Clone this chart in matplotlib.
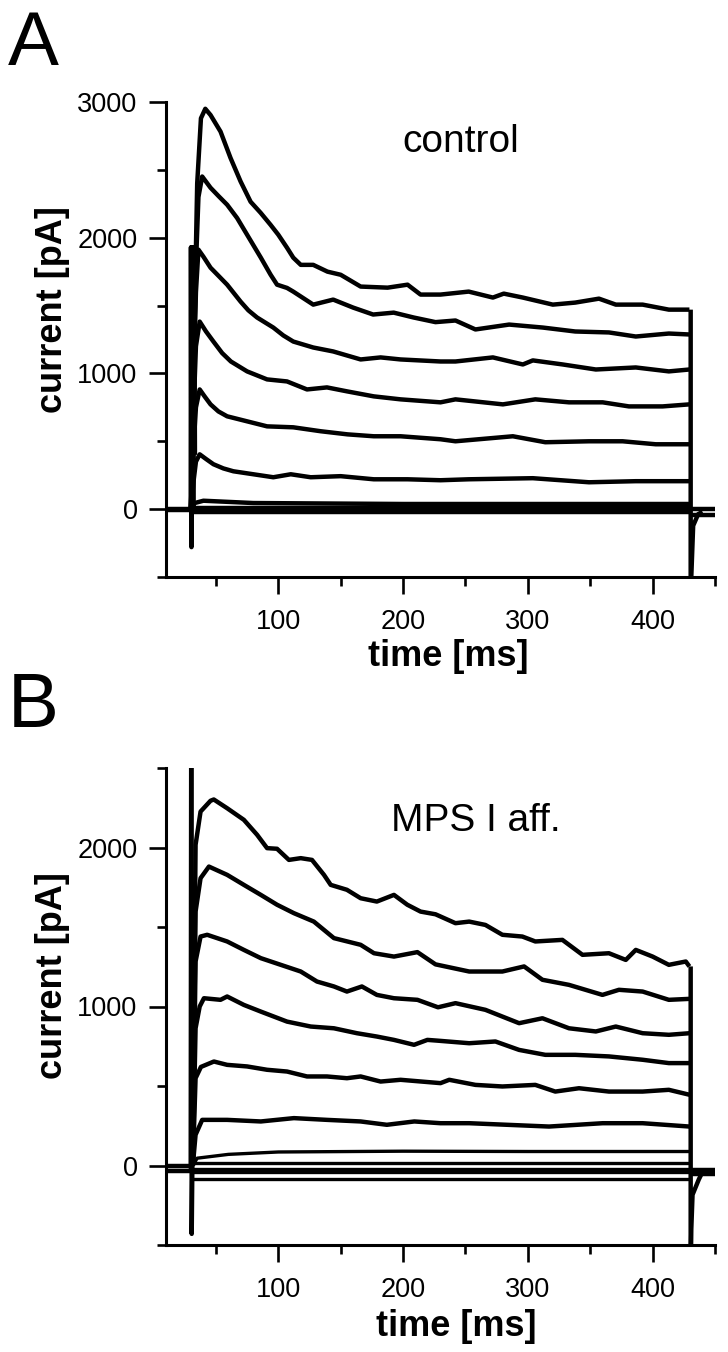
import matplotlib
matplotlib.use('Agg')
import matplotlib.pyplot as plt
from matplotlib.ticker import MultipleLocator

plt.rcParams['font.family'] = ['Liberation Sans', 'DejaVu Sans']

W, H = 728, 1352

# ---- panel A (control) ----
a1_t = [30, 32, 33.5, 35, 38, 41.5, 45.7, 53.7, 61.7, 69.8, 77.8, 85.8, 93.8, 100, 107, 112, 118, 128,
        139.4, 150, 166, 187.6, 203.6, 214, 230, 252.6, 272, 280.7, 296, 320, 338, 357, 370.5, 392, 413, 429.5]
a1_i = [0, 800, 1700, 2400, 2880, 2950, 2904, 2782, 2588, 2414, 2265, 2184, 2095, 2022, 1926, 1853, 1800, 1800,
        1750, 1727, 1640, 1632, 1654, 1581, 1581, 1603, 1559, 1588, 1559, 1507, 1522, 1551, 1507, 1507, 1470, 1470]
a2_t = [30, 32, 34, 36, 39, 45.7, 52.4, 59, 67, 75, 86, 93.8, 99, 107, 112, 128, 144, 160, 176, 192.5,
        208.5, 226, 242, 258, 285, 312, 338, 365, 386.5, 413, 429.5]
a2_i = [0, 900, 1800, 2300, 2451, 2368, 2304, 2243, 2145, 2022, 1853, 1728, 1654, 1630, 1603, 1507, 1544, 1485,
        1434, 1448, 1412, 1378, 1390, 1324, 1360, 1338, 1309, 1302, 1272, 1294, 1287]
a3_t = [30, 32, 34, 36, 40, 45.7, 52, 59, 69.8, 76, 83, 96, 104, 112, 128, 144, 166, 182, 198, 230, 242,
        272, 296, 304, 328, 354.5, 386.5, 413, 429.5]
a3_i = [0, 900, 1600, 1912, 1860, 1779, 1720, 1654, 1529, 1465, 1412, 1338, 1280, 1235, 1191, 1162, 1103,
        1118, 1103, 1088, 1088, 1118, 1066, 1096, 1066, 1029, 1044, 1015, 1029]
a4_t = [30, 32, 34, 37, 42, 48, 55, 62, 75, 91, 107, 123, 139, 155, 176.5, 198, 230, 242, 280, 306, 333,
        360, 381, 408, 429.5]
a4_i = [0, 700, 1200, 1382, 1310, 1235, 1150, 1088, 1015, 956, 941, 882, 897, 868, 831, 809, 787, 809, 772,
        809, 787, 787, 757, 757, 772]
a5_t = [30, 32, 34, 37, 41, 45.7, 52, 59, 75, 91, 112, 134, 155.5, 176.5, 198, 230, 242, 288, 314, 349,
        376, 402.5, 429.5]
a5_i = [0, 450, 750, 882, 830, 772, 720, 684, 647, 610, 603, 574, 551, 537, 537, 515, 500, 537, 493, 500,
        500, 478, 478]
a6_t = [30, 32, 34, 37, 42, 48, 56, 64, 80, 96, 110, 126, 150, 176.5, 203.6, 230, 252.6, 304, 349, 386.5, 429.5]
a6_i = [0, 200, 350, 404, 370, 331, 300, 279, 257, 235, 257, 235, 243, 220, 220, 213, 220, 228, 198, 206, 206]
a7_t = [30, 33, 40, 80, 200, 429.5]
a7_i = [0, 45, 62, 45, 38, 38]
a8_t = [30, 429.5]
a8_i = [9, 9]
a9_t = [30, 429.5]
a9_i = [-20, -20]

a_pre_t = [10, 30]
a_pre_i = [[0, 0], [-10, -10]]
a_on_t = [29.8, 30.0, 30.4, 31.0, 31.8, 32.6, 33.2]
a_on_i = [0, 1930, -280, 1930, 0, 1930, 400]
a_off_t = [430.5, 430.5, 431, 432.5, 436.5, 440]
a_off_i = [1470, -700, -500, -122, -37, -20]
a_post_t = [430.5, 450]
a_post_i = [[0, 0], [-40, -40]]

# ---- panel B (MPS I aff.) ----
b1_t = [31.5, 33.7, 37.7, 45.7, 48.3, 59, 72.4, 83, 91, 99, 108.5, 118, 127, 136.6, 142, 155, 166, 179,
        192.7, 203.4, 214, 226, 242, 253, 266, 279.6, 295.6, 306, 327.7, 343.8, 365, 378.5, 386.5,
        400, 413, 426.6, 429.5]
b1_i = [0, 2017, 2226, 2294, 2302, 2247, 2174, 2080, 1996, 1992, 1922, 1933, 1922, 1828, 1765, 1734, 1681, 1660,
        1702, 1640, 1597, 1580, 1524, 1534, 1513, 1451, 1440, 1409, 1419, 1325, 1335, 1293, 1356,
        1314, 1262, 1283, 1252]
b2_t = [31.5, 33.7, 37.7, 44.4, 59, 72.4, 86, 99, 112.5, 128.5, 144.6, 166, 176.7, 192.7, 211.5, 226,
        253, 279.6, 297, 311.7, 333, 359.8, 373, 392, 413, 429.5]
b2_i = [0, 1597, 1807, 1880, 1828, 1765, 1702, 1640, 1587, 1534, 1430, 1388, 1335, 1314, 1342, 1265,
        1220, 1220, 1252, 1168, 1136, 1073, 1105, 1094, 1042, 1048]
b3_t = [31.5, 33.7, 37.7, 43, 59, 72.4, 86, 102, 118, 131, 144.6, 155, 167, 179, 192.7, 211.5, 228,
        242, 266, 293, 311.7, 333, 354.5, 370.5, 392, 413, 429.5]
b3_i = [0, 1283, 1440, 1451, 1409, 1356, 1304, 1262, 1220, 1157, 1126, 1094, 1126, 1073, 1052, 1042, 995,
        1021, 979, 895, 926, 863, 843, 874, 832, 822, 832]
b4_t = [31.5, 33.7, 37, 40.4, 53.7, 59, 72.4, 86, 107, 126, 144.6, 163, 179, 192.7, 208.8, 219.5, 228,
        253, 274, 293, 314, 338, 365, 392, 413, 429.5]
b4_i = [0, 863, 1000, 1052, 1042, 1063, 1010, 968, 905, 874, 863, 832, 811, 790, 759, 790, 785,
        769, 780, 727, 696, 696, 686, 665, 644, 644]
b5_t = [31.5, 33.7, 38, 48.4, 59, 75, 91, 107, 123, 139, 155, 166, 182, 198, 230, 237, 258, 279.6,
        306, 322, 341, 365, 392, 413, 429.5]
b5_i = [0, 549, 620, 654, 633, 623, 602, 591, 560, 560, 549, 560, 528, 539, 518, 539, 507, 497,
        507, 465, 486, 465, 465, 476, 445]
b6_t = [31.5, 33.7, 39, 59, 86, 112.5, 139, 166, 187, 209, 230, 253, 317, 360, 392, 429.5]
b6_i = [0, 193, 287, 287, 277, 298, 287, 277, 256, 277, 266, 266, 245, 266, 266, 245]
b7_t = [31.5, 35, 60, 100, 200, 300, 429.5]
b7_i = [0, 46, 70, 85, 90, 88, 88]
b_small_t = [31.5, 429.5]
b_small_i = [[15, 15], [-20, -20], [-40, -40], [-82, -82]]

b_pre_t = [10, 30]
b_pre_i = [[0, 0], [-35, -35]]
b_on_t = [29.8, 30.2, 30.6, 31.2]
b_on_i = [-20, 2700, -430, 60]
b_off_t = [430.5, 430.5, 431, 432, 437, 440]
b_off_i = [1252, -700, -400, -184, -88, -40]
b_post_t = [430.5, 450]
b_post_i = [[-30, -30], [-55, -55]]


def px_fig(x, y):
    return x / W, 1 - y / H


def style_axes(ax, ylim, ymajor):
    ax.set_xlim(10, 450)
    ax.set_ylim(*ylim)
    ax.xaxis.set_major_locator(MultipleLocator(100))
    ax.xaxis.set_minor_locator(MultipleLocator(50))
    ax.yaxis.set_major_locator(MultipleLocator(ymajor))
    ax.yaxis.set_minor_locator(MultipleLocator(500))
    for s in ['top', 'right']:
        ax.spines[s].set_visible(False)
    for s in ['left', 'bottom']:
        ax.spines[s].set_linewidth(2.2)
    ax.tick_params(which='major', direction='out', length=12, width=1.9, labelsize=19.5, color='black')
    ax.tick_params(which='minor', direction='out', length=6.5, width=1.9)
    ax.tick_params(axis='x', pad=11)
    ax.tick_params(axis='y', pad=8.5)


fig = plt.figure(figsize=(W / 100, H / 100), dpi=100)
axA = fig.add_axes([166 / W, 1 - 577 / H, (715 - 166) / W, (577 - 102) / H])
axB = fig.add_axes([166 / W, 1 - 1245 / H, (715 - 166) / W, (1245 - 768) / H])

lw = 3.2
kw = dict(color='black', lw=lw, solid_joinstyle='round', solid_capstyle='butt')

# panel A
for t, i in [(a1_t, a1_i), (a2_t, a2_i), (a3_t, a3_i), (a4_t, a4_i), (a5_t, a5_i),
             (a6_t, a6_i), (a7_t, a7_i), (a8_t, a8_i), (a9_t, a9_i)]:
    axA.plot(t, i, **kw)
for i in a_pre_i:
    axA.plot(a_pre_t, i, **kw)
for i in a_post_i:
    axA.plot(a_post_t, i, **kw)
axA.plot(a_on_t, a_on_i, **kw)
axA.plot(a_off_t, a_off_i, **kw)
style_axes(axA, (-500, 3000), 1000)

# panel B
for t, i in [(b1_t, b1_i), (b2_t, b2_i), (b3_t, b3_i), (b4_t, b4_i), (b5_t, b5_i), (b6_t, b6_i)]:
    axB.plot(t, i, **kw)
axB.plot(b7_t, b7_i, color='black', lw=2.4)
for i in b_small_i:
    axB.plot(b_small_t, i, color='black', lw=2.4)
for i in b_pre_i:
    axB.plot(b_pre_t, i, **kw)
for i in b_post_i:
    axB.plot(b_post_t, i, **kw)
axB.plot(b_on_t, b_on_i, **kw)
axB.plot(b_off_t, b_off_i, **kw)
style_axes(axB, (-500, 2500), 1000)

# labels
fig.text(*px_fig(8, 65), 'A', fontsize=55, ha='left', va='baseline')
fig.text(*px_fig(8, 727), 'B', fontsize=55, ha='left', va='baseline')
fig.text(*px_fig(461, 152), 'control', fontsize=28, ha='center', va='baseline')
fig.text(*px_fig(476, 831), 'MPS I aff.', fontsize=28, ha='center', va='baseline')
fig.text(*px_fig(52, 310), 'current [pA]', fontsize=26, fontweight='bold', rotation=90,
         ha='center', va='center')
fig.text(*px_fig(52, 976), 'current [pA]', fontsize=26, fontweight='bold', rotation=90,
         ha='center', va='center')
fig.text(*px_fig(448, 656), 'time [ms]', fontsize=26, fontweight='bold', ha='center', va='center')
fig.text(*px_fig(456, 1327), 'time [ms]', fontsize=26, fontweight='bold', ha='center', va='center')

fig.savefig('out.png', dpi=100)
